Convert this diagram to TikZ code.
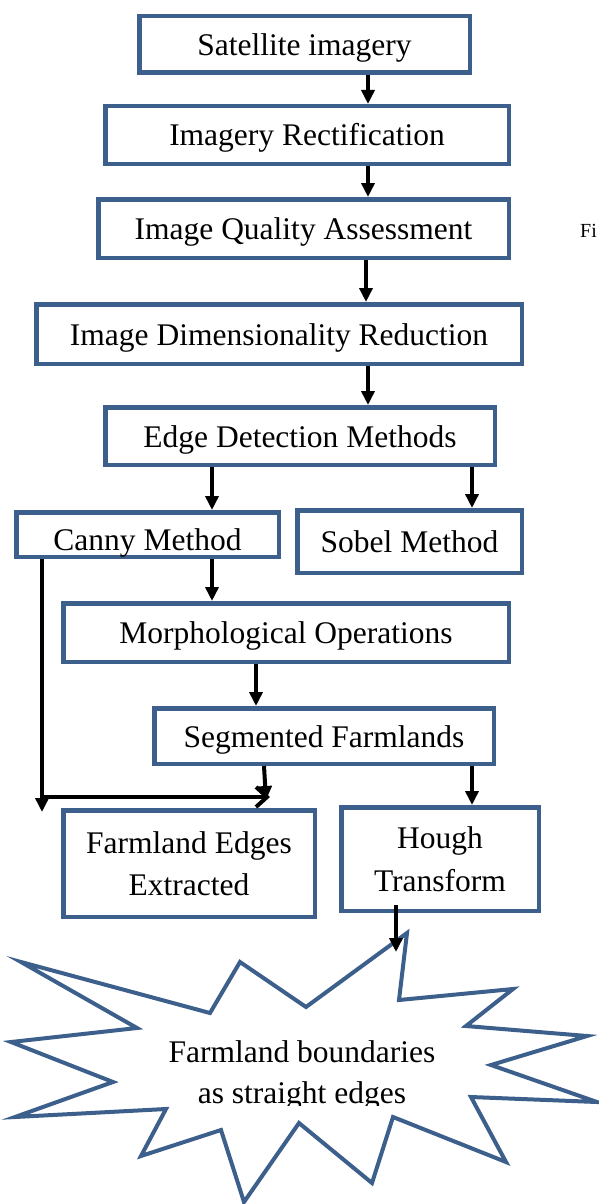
\documentclass[tikz,border=0pt]{standalone}
\usepackage{fontspec}
\setmainfont{Liberation Serif}
\usepackage{tikz}
\definecolor{steel}{RGB}{60,95,140}
\usetikzlibrary{shapes.geometric, arrows.meta}
\tikzstyle{process} = [rectangle, inner sep=2pt, text centered, align=center, draw=steel, line width=4.5pt, font=\fontsize{31.5}{42.5}\selectfont]
\tikzstyle{oneline} = [process, text height=22pt, text depth=0pt]
\tikzstyle{arrow} = [line width=4pt, -{Triangle[length=14pt,width=13pt]}, draw=black]
\tikzstyle{barb} = [line width=4pt, -{Straight Barb[length=11pt,width=20pt]}, draw=black]
\tikzstyle{burst} = [draw=steel, line width=4pt, line join=miter]

\begin{document}
\begin{tikzpicture}[node distance=100pt]
        \useasboundingbox (0,0) rectangle (598pt,-1204pt);
        \node (node0) [oneline, minimum width=330.5pt, minimum height=56.5pt] at (304.5pt,-44.5pt) {Satellite imagery};
        \node (node1) [oneline, minimum width=403.5pt, minimum height=57.5pt, below of=node0, xshift=2.5pt, yshift=9.5pt] {Imagery Rectification};
        \node (node2) [oneline, minimum width=410.5pt, minimum height=58.5pt, below of=node1, xshift=-3.5pt, yshift=6.5pt] {Image Quality Assessment};
        \node (node3) [oneline, minimum width=485.5pt, minimum height=59.5pt, below of=node2, xshift=-24.5pt, yshift=-5.5pt] {Image Dimensionality Reduction};
        \node (node4) [oneline, minimum width=389.5pt, minimum height=57.5pt, below of=node3, xshift=21pt, yshift=-2pt] {Edge Detection Methods};

        \node (node5) [process, minimum width=262.5pt, minimum height=44.5pt, text height=31pt, text depth=0pt, below of=node4, xshift=-152.5pt, yshift=1.5pt] {Canny Method};
        \node (node6) [oneline, minimum width=224.5pt, minimum height=62.5pt, right of=node5, xshift=162pt, yshift=-7pt] {Sobel Method};
        \node (node7) [oneline, minimum width=445.5pt, minimum height=58.5pt, below of=node5, xshift=138.5pt, yshift=2pt] {Morphological Operations};
        \node (node8) [oneline, minimum width=339.5pt, minimum height=55.5pt, below of=node7, xshift=38pt, yshift=-3.5pt] {Segmented Farmlands};

        \node (node9) [process, minimum width=251.5pt, minimum height=106.5pt, below of=node8, xshift=-135pt, yshift=-27.5pt] {Farmland Edges\\Extracted};
        \node (node10) [process, minimum width=197.5pt, minimum height=103.5pt, right of=node9, xshift=151pt, yshift=4.5pt] {Hough\\Transform};

        % burst outline
        \draw [burst] (407pt,-933pt) -- (399pt,-1000pt) -- (513pt,-989pt) -- (466pt,-1026pt)
            -- (587pt,-1036pt) -- (491pt,-1065pt) -- (597pt,-1102pt) -- (471pt,-1097pt)
            -- (506pt,-1162pt) -- (393pt,-1117pt) -- (372pt,-1183pt) -- (299pt,-1123pt)
            -- (244pt,-1202pt) -- (221pt,-1130pt) -- (141pt,-1156pt) -- (166pt,-1109pt)
            -- (15pt,-1117pt) -- (113pt,-1082pt) -- (11pt,-1042pt) -- (137pt,-1028pt)
            -- (21pt,-962pt) -- (210pt,-1013pt) -- (240pt,-962pt) -- (306pt,-1007pt) -- cycle;
        \begin{scope}
            \clip (0pt,-900pt) rectangle (598pt,-1105pt);
            \node (node11) [align=center, font=\fontsize{31.5}{41}\selectfont, below of=node10, xshift=-138pt, yshift=-116pt] {Farmland boundaries\\as straight edges};
        \end{scope}

        \node (fig) [anchor=base west, inner sep=0pt, font=\fontsize{20}{24}\selectfont] at (580pt,-237pt) {Fi};

        \coordinate (cannydown) at (42pt,-812pt);
        \coordinate (edgesmark) at (270pt,-797pt);
        \coordinate (starin) at (396pt,-952pt);

        \draw [arrow] ([xshift=63.5pt]node0.south) -- ([xshift=63.5pt]node0.south |- node1.north);
        \draw [arrow] ([xshift=61pt]node1.south) -- ([xshift=61pt]node1.south |- node2.north);
        \draw [arrow] ([xshift=62.5pt]node2.south) -- ([xshift=62.5pt]node2.south |- node3.north);
        \draw [arrow] ([xshift=89pt]node3.south) -- ([xshift=89pt]node3.south |- node4.north);
        \draw [arrow] ([xshift=-88pt]node4.south) -- ([xshift=-88pt]node4.south |- node5.north);
        \draw [arrow] ([xshift=172pt]node4.south) -- ([xshift=172pt]node4.south |- node6.north);
        \draw [arrow] ([xshift=64.5pt]node5.south) -- ([xshift=64.5pt]node5.south |- node7.north);
        \draw [arrow] ([xshift=-30pt]node7.south) -- ([xshift=-30pt]node7.south |- node8.north);
        \draw [arrow] ([xshift=-60pt]node8.south) -- ([xshift=77pt, yshift=8pt]node9.north);
        \draw [arrow] ([xshift=148pt]node8.south) -- ([xshift=148pt]node8.south |- node10.north);
        \draw [arrow] ([xshift=-105.5pt]node5.south) -- (cannydown);
        \draw [barb] ([xshift=-105.5pt]node5.south |- edgesmark) -- (edgesmark);
        \draw [arrow] ([xshift=-44pt, yshift=8pt]node10.south) -- ([xshift=-44pt]node10.south |- starin);
    \end{tikzpicture}
\end{document}
